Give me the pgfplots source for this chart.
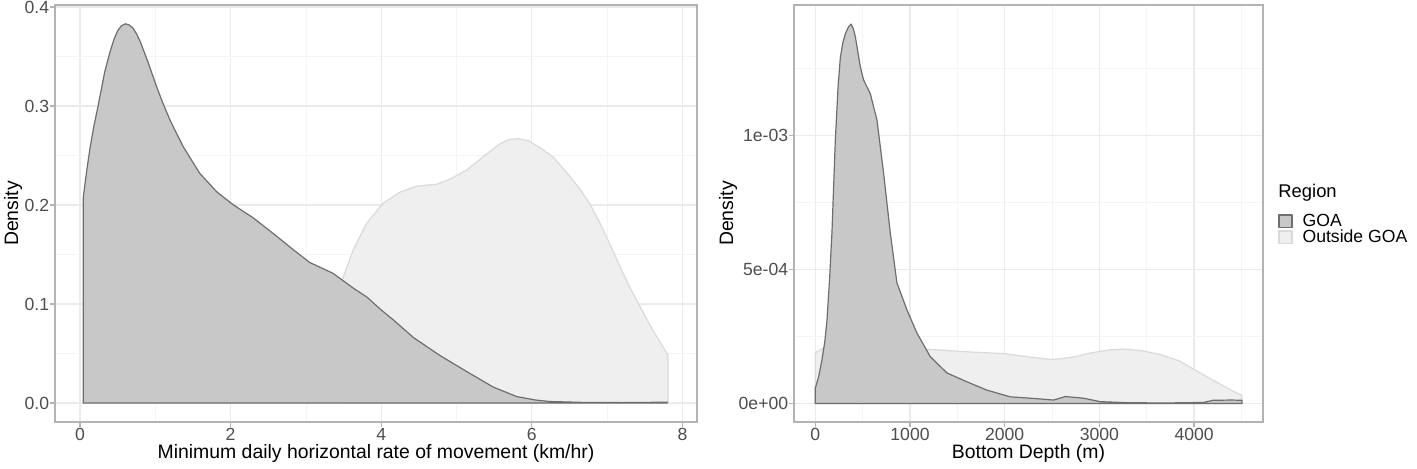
\documentclass[border=0pt]{standalone}
\usepackage{fontspec}
\setmainfont{Liberation Sans}
\usepackage{pgfplots}
\pgfplotsset{compat=1.18}
\definecolor{goafill}{HTML}{C8C8C8}
\definecolor{goaline}{HTML}{6E6E6E}
\definecolor{outfill}{HTML}{EFEFEF}
\definecolor{outline}{HTML}{DADADA}
\definecolor{frame}{HTML}{B3B3B3}
\definecolor{ticktext}{HTML}{4D4D4D}
\definecolor{gridmaj}{HTML}{EBEBEB}
\definecolor{gridmin}{HTML}{F4F4F4}

\pgfplotstableread{
x y
0.044 0
0.044 0.208
0.09 0.235
0.13 0.256
0.18 0.278
0.24 0.300
0.33 0.335
0.40 0.355
0.45 0.367
0.50 0.376
0.55 0.381
0.60 0.383
0.65 0.382
0.70 0.379
0.75 0.373
0.80 0.365
0.90 0.345
1.02 0.319
1.10 0.303
1.20 0.285
1.37 0.259
1.59 0.232
1.82 0.213
2.04 0.200
2.30 0.187
2.57 0.171
2.83 0.155
3.05 0.142
3.36 0.131
3.63 0.116
3.81 0.107
4.00 0.094
4.16 0.084
4.43 0.066
4.78 0.048
5.13 0.032
5.49 0.016
5.80 0.0065
6.05 0.003
6.24 0.0015
6.68 0.0006
7.20 0.0004
7.80 0.0008
7.80 0
}\goarate
\pgfplotstableread{
x y
3.45 0
3.45 0.120
3.50 0.128
3.63 0.155
3.81 0.182
4.03 0.202
4.25 0.213
4.47 0.219
4.74 0.221
4.91 0.226
5.13 0.235
5.36 0.249
5.58 0.262
5.70 0.266
5.82 0.267
5.95 0.265
6.11 0.258
6.29 0.248
6.46 0.233
6.64 0.216
6.78 0.200
6.91 0.181
7.04 0.160
7.17 0.138
7.30 0.117
7.44 0.097
7.56 0.080
7.66 0.067
7.81 0.048
7.81 0
}\outrate
\pgfplotstableread{
x y
0 0
0 5.7e-5
35 1.0e-4
70 1.62e-4
100 2.3e-4
123 3.1e-4
150 4.6e-4
176 6.4e-4
211 9.8e-4
240 1.18e-3
264 1.29e-3
290 1.345e-3
317 1.38e-3
350 1.405e-3
377 1.416e-3
400 1.40e-3
422 1.37e-3
450 1.31e-3
475 1.257e-3
510 1.207e-3
580 1.157e-3
651 1.058e-3
721 8.6e-4
792 6.36e-4
862 4.5e-4
968 3.49e-4
1073 2.63e-4
1214 1.75e-4
1390 1.14e-4
1601 8.1e-5
1812 5.0e-5
2058 2.5e-5
2304 1.9e-5
2515 1.3e-5
2640 2.6e-5
2830 2.0e-5
3008 7e-6
3300 3e-6
3700 2e-6
4100 4e-6
4200 1.2e-5
4400 1.3e-5
4505 1.2e-5
4505 0
}\goadepth
\pgfplotstableread{
x y
0 0
0 1.9e-4
100 2.1e-4
300 2.2e-4
600 2.2e-4
900 2.1e-4
1000 2.06e-4
1300 2.0e-4
1600 1.93e-4
2000 1.86e-4
2300 1.72e-4
2500 1.64e-4
2700 1.72e-4
2900 1.88e-4
3100 2.0e-4
3250 2.03e-4
3450 1.97e-4
3650 1.82e-4
3850 1.58e-4
4000 1.27e-4
4200 8.7e-5
4400 4.8e-5
4505 3.0e-5
4505 0
}\outdepth

\pgfplotsset{
  gg/.style={
    scale only axis, anchor=south west,
    height=208.5pt,
    clip mode=individual,
    axis line style={draw=frame, line width=0.7pt},
    tick align=outside,
    major tick length=2.5pt, minor tick length=0pt,
    tick style={draw=frame, line width=0.6pt},
    xtick pos=bottom, ytick pos=left,
    grid=both,
    major grid style={draw=gridmaj, line width=0.6pt},
    minor grid style={draw=gridmin, line width=0.4pt},
    ticklabel style={font=\fontsize{8.8}{10}\selectfont, text=ticktext},
    xticklabel style={anchor=north, inner sep=0pt, yshift=-0.5pt},
    yticklabel style={anchor=east, inner sep=0pt, xshift=-0.25pt},
    label style={font=\fontsize{9.7}{11}\selectfont},
    scaled ticks=false,
    /pgf/number format/assume math mode=true,
  },
  goa/.style={fill=goafill, draw=goaline, line width=0.6pt, line join=round},
  outside/.style={fill=outfill, draw=outline, line width=0.6pt, line join=round},
}

\begin{document}
\begin{tikzpicture}
\useasboundingbox (0,0) rectangle (708.5pt,234pt);

\begin{axis}[gg, at={(27.5pt,23pt)}, width=321pt,
  xmin=-0.332, xmax=8.194, ymin=-0.0192, ymax=0.402,
  xtick={0,2,4,6,8}, xticklabels={0,2,4,6,8},
  minor xtick={1,3,5,7},
  ytick={0,0.1,0.2,0.3,0.4}, yticklabels={0.0,0.1,0.2,0.3,0.4},
  minor ytick={0.05,0.15,0.25,0.35},
  xlabel={Minimum daily horizontal rate of movement (km/hr)},
  ylabel={Density},
  xlabel style={at={(axis description cs:0.5,-0.0743)}, anchor=center},
  ylabel style={at={(axis description cs:-0.0654,0.5)}, anchor=center},
]
\addplot[outside] table {\outrate} -- cycle;
\addplot[goa] table {\goarate} -- cycle;
\end{axis}

\begin{axis}[gg, at={(397pt,23pt)}, width=234.5pt,
  xmin=-225, xmax=4728, ymin=-6.9e-5, ymax=1.487e-3,
  xtick={0,1000,2000,3000,4000}, xticklabels={0,1000,2000,3000,4000},
  minor xtick={500,1500,2500,3500,4500},
  ytick={0,5e-4,1e-3}, yticklabels={0e+00,5e-04,1e-03},
  minor ytick={2.5e-4,7.5e-4,1.25e-3},
  xlabel={Bottom Depth (m)},
  ylabel={Density},
  xlabel style={at={(axis description cs:0.5,-0.0743)}, anchor=center},
  ylabel style={at={(axis description cs:-0.1407,0.5)}, anchor=center},
  legend style={at={(axis description cs:1.032,0.501)}, anchor=north west,
    draw=none, fill=none, inner sep=0pt, row sep=0pt,
    font=\fontsize{8.8}{9}\selectfont,
    nodes={inner sep=0.5pt, text height=6.2pt, text depth=0.8pt},
    /tikz/every odd column/.append style={column sep=4.5pt}},
  legend cell align=left,
  legend image code/.code={\draw[#1] (0pt,-3.2pt) rectangle (6.5pt,3.2pt);},
]
\addplot[outside, forget plot] table {\outdepth} -- cycle;
\addplot[goa] table {\goadepth} -- cycle;
\addlegendentry{GOA}
\addlegendimage{outside}
\addlegendentry{Outside GOA}
\node[anchor=west, inner sep=0pt, font=\fontsize{9.2}{10}\selectfont]
  at (axis description cs:1.032,0.549) {Region};
\end{axis}
\end{tikzpicture}
\end{document}
